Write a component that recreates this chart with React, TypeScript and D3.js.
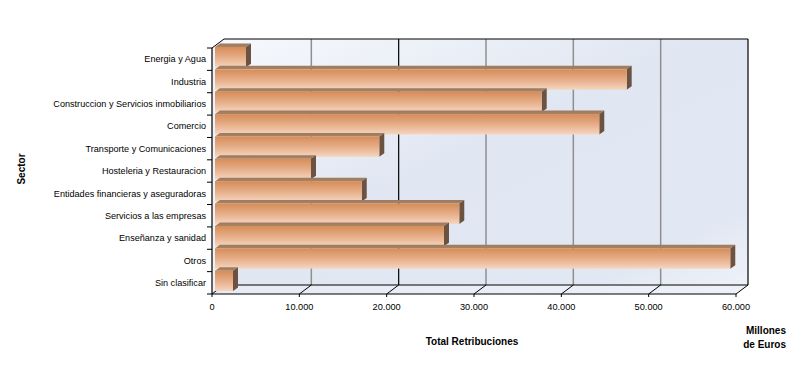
import React from "react";
import * as d3 from "d3";

const categories = [
  "Energia y Agua",
  "Industria",
  "Construccion y Servicios inmobiliarios",
  "Comercio",
  "Transporte y Comunicaciones",
  "Hosteleria y Restauracion",
  "Entidades financieras y aseguradoras",
  "Servicios a las empresas",
  "Enseñanza y sanidad",
  "Otros",
  "Sin clasificar",
];
const values = [3550, 47140, 37410, 44000, 18810, 10990, 16800, 27970, 26220, 59000, 2060];
const xTicks = [0, 10000, 20000, 30000, 40000, 50000, 60000];
const xTickLabels = ["0", "10.000", "20.000", "30.000", "40.000", "50.000", "60.000"];
const yTitle = "Sector";
const xTitle = "Total Retribuciones";
const unitLines = ["Millones", "de Euros"];

const W = 804, H = 371;
const L = 212, R = 736, T = 48, B = 294;
const DX = 12, DY = -9; // wall depth
const BX = 3, BY = -1; // bar front plane offset
const BDX = 5, BDY = -3.5; // bar depth
const FONT = "'Liberation Sans', Arial, sans-serif";

export default function App() {
  const x = d3.scaleLinear().domain([0, 60000]).range([L, R]);
  const y = d3.scaleBand<string>().domain(categories).range([T, B]).padding(0);
  const bw = y.bandwidth();
  const boundaries = d3.range(categories.length + 1).map((i) => T + i * bw);

  return (
    <div style={{ position: "absolute", left: 0, top: 0, width: W, height: H, background: "#fff" }}>
      <svg width={W} height={H} style={{ display: "block" }}>
        <defs>
          <linearGradient id="wall" x1="0" y1="0" x2="1" y2="1">
            <stop offset="0" stopColor="#f6f8fc" />
            <stop offset="0.45" stopColor="#e1e7f2" />
            <stop offset="0.85" stopColor="#e2e8f3" />
            <stop offset="1" stopColor="#eef1f8" />
          </linearGradient>
          <linearGradient id="floor" x1="0" y1="0" x2="1" y2="0">
            <stop offset="0" stopColor="#e6ebf4" />
            <stop offset="1" stopColor="#eef1f8" />
          </linearGradient>
          <linearGradient id="front" x1="0" y1="0" x2="0" y2="1">
            <stop offset="0" stopColor="#d68c58" />
            <stop offset="0.5" stopColor="#e6ad87" />
            <stop offset="1" stopColor="#f5d5bf" />
          </linearGradient>
          <linearGradient id="topf" x1="0" y1="0" x2="0" y2="1">
            <stop offset="0" stopColor="#9c7a62" />
            <stop offset="1" stopColor="#a9835f" />
          </linearGradient>
        </defs>

        {/* back wall */}
        <rect x={L + DX} y={T + DY} width={R - L} height={B - T} fill="url(#wall)" />
        {/* left wall */}
        <polygon
          points={`${L},${T} ${L + DX},${T + DY} ${L + DX},${B + DY} ${L},${B}`}
          fill="#eef1f8"
        />
        {/* floor */}
        <polygon
          points={`${L},${B} ${L + DX},${B + DY} ${R + DX},${B + DY} ${R},${B}`}
          fill="url(#floor)"
        />

        {/* grid lines on back wall */}
        {xTicks.slice(1, -1).map((t, i) => (
          <line
            key={"g" + i}
            x1={x(t) + DX}
            x2={x(t) + DX}
            y1={T + DY}
            y2={B + DY}
            stroke={t === 20000 ? "#000" : "#8f8f8f"}
            strokeWidth={t === 20000 ? 1.2 : 1.5}
          />
        ))}
        {/* wall borders */}
        <line x1={L + DX} x2={R + DX} y1={T + DY} y2={T + DY} stroke="#000" strokeWidth={1.2} />
        <line x1={R + DX} x2={R + DX} y1={T + DY} y2={B + DY} stroke="#000" strokeWidth={1.2} />
        <line x1={L + DX} x2={R + DX} y1={B + DY} y2={B + DY} stroke="#000" strokeWidth={1.2} />
        <line x1={L} x2={L + DX} y1={T} y2={T + DY} stroke="#000" strokeWidth={1} />
        {/* floor diagonals */}
        {xTicks.map((t, i) => (
          <line key={"d" + i} x1={x(t)} y1={B} x2={x(t) + DX} y2={B + DY} stroke="#000" strokeWidth={1} />
        ))}

        {/* bars */}
        {categories.map((c, i) => {
          const v = values[i];
          const x0 = x(0) + BX;
          const x1 = x(v) + BX;
          const yt = (y(c) as number) + BY;
          const h = bw - 2;
          return (
            <g key={c}>
              <polygon
                points={`${x0},${yt} ${x0 + BDX},${yt + BDY} ${x1 + BDX},${yt + BDY} ${x1},${yt}`}
                fill="url(#topf)"
              />
              <polygon
                points={`${x1},${yt} ${x1 + BDX},${yt + BDY} ${x1 + BDX},${yt + h + BDY} ${x1},${yt + h}`}
                fill="#6c5240"
              />
              <rect x={x0} y={yt} width={x1 - x0} height={h} fill="url(#front)" />
            </g>
          );
        })}

        {/* axes */}
        <line x1={L} x2={L} y1={T} y2={B} stroke="#000" strokeWidth={1.2} />
        <line x1={L} x2={R} y1={B} y2={B} stroke="#000" strokeWidth={1.2} />
        {boundaries.map((b, i) => (
          <line key={"yt" + i} x1={L - 5} x2={L} y1={b} y2={b} stroke="#000" strokeWidth={1} />
        ))}
        {xTicks.map((t, i) => (
          <line key={"xt" + i} x1={x(t)} x2={x(t)} y1={B} y2={B + 3} stroke="#000" strokeWidth={1} />
        ))}

        {/* category labels */}
        {categories.map((c) => (
          <text
            key={"l" + c}
            x={L - 6}
            y={(y(c) as number) + bw / 2}
            dy="0.35em"
            textAnchor="end"
            fontFamily={FONT}
            fontSize={9.1}
            fill="#000"
          >
            {c}
          </text>
        ))}
        {/* x tick labels */}
        {xTicks.map((t, i) => (
          <text
            key={"xl" + i}
            x={x(t)}
            y={310}
            textAnchor="middle"
            fontFamily={FONT}
            fontSize={9.2}
            fill="#000"
          >
            {xTickLabels[i]}
          </text>
        ))}
        {/* titles */}
        <text
          x={472}
          y={345}
          textAnchor="middle"
          fontFamily={FONT}
          fontSize={10}
          fontWeight="bold"
          fill="#000"
        >
          {xTitle}
        </text>
        <text
          transform={`translate(25,169) rotate(-90)`}
          textAnchor="middle"
          fontFamily={FONT}
          fontSize={10}
          fontWeight="bold"
          fill="#000"
        >
          {yTitle}
        </text>
        {unitLines.map((u, i) => (
          <text
            key={"u" + i}
            x={786}
            y={334 + i * 14}
            textAnchor="end"
            fontFamily={FONT}
            fontSize={10}
            fontWeight="bold"
            fill="#000"
          >
            {u}
          </text>
        ))}
      </svg>
    </div>
  );
}
